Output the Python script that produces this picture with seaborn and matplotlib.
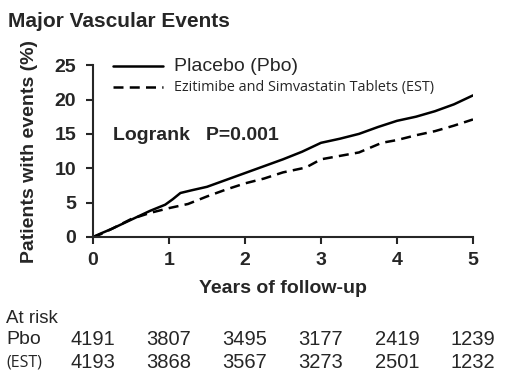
import numpy as np
import pandas as pd
import seaborn as sns
import matplotlib.pyplot as plt
from matplotlib import transforms

# curvas (años, % con eventos)
years_pbo = [0, 0.1, 0.25, 0.5, 0.75, 0.95, 1.05, 1.15, 1.3, 1.5, 1.75, 2.0, 2.25, 2.5,
             2.75, 3.0, 3.25, 3.5, 3.75, 4.0, 4.25, 4.5, 4.75, 5.0]
pct_pbo = [0, 0.5, 1.2, 2.5, 3.8, 4.7, 5.5, 6.4, 6.8, 7.3, 8.3, 9.3, 10.3, 11.3,
           12.4, 13.7, 14.3, 15.0, 16.0, 16.9, 17.5, 18.3, 19.3, 20.6]
years_est = [0, 0.1, 0.25, 0.5, 0.75, 1.0, 1.25, 1.5, 1.75, 2.0, 2.25, 2.5, 2.8,
             3.0, 3.25, 3.5, 3.8, 4.0, 4.25, 4.5, 4.75, 5.0]
pct_est = [0, 0.4, 1.2, 2.6, 3.5, 4.2, 4.8, 5.9, 6.9, 7.8, 8.5, 9.4, 10.1,
           11.3, 11.8, 12.3, 13.7, 14.1, 14.8, 15.4, 16.2, 17.1]

risk_years = [0, 1, 2, 3, 4, 5]
risk_pbo = [4191, 3807, 3495, 3177, 2419, 1239]
risk_est = [4193, 3868, 3567, 3273, 2501, 1232]

df = pd.concat([
    pd.DataFrame({'year': years_pbo, 'pct': pct_pbo, 'grupo': 'Placebo (Pbo)'}),
    pd.DataFrame({'year': years_est, 'pct': pct_est, 'grupo': 'Ezitimibe and Simvastatin Tablets (EST)'}),
])

sns.set_style('ticks')
plt.rcParams['font.family'] = ['Liberation Sans', 'DejaVu Sans']

fig = plt.figure(figsize=(5.1, 3.81), dpi=100)
ax = fig.add_axes([0.1824, 0.378, 0.745, 0.451])

sns.lineplot(data=df, x='year', y='pct', hue='grupo', style='grupo',
             palette=['black', 'black'], dashes=[(None, None), (4, 2.5)],
             linewidth=1.8, ax=ax, legend=False, estimator=None)

ax.set_xlim(0, 5)
ax.set_ylim(0, 25)
ax.set_xticks(range(6))
ax.set_yticks(range(0, 26, 5))
ax.tick_params(labelsize=14, width=1.5, length=5, direction='out')
ax.tick_params(axis='x', pad=6)
ax.tick_params(axis='y', pad=7)
for lbl in ax.get_xticklabels() + ax.get_yticklabels():
    lbl.set_fontweight('bold')
for s in ['left', 'bottom']:
    ax.spines[s].set_linewidth(1.5)
sns.despine(ax=ax)

ax.set_xlabel('Years of follow-up', fontsize=14, fontweight='bold')
ax.set_ylabel('Patients with events (%)', fontsize=14, fontweight='bold')
ax.xaxis.set_label_coords(0.5, -0.25)
ax.yaxis.set_label_coords(-0.145, 0.5)

# leyenda a mano
leg = ax.legend(handles=ax.get_lines()[:2],
                labels=['Placebo (Pbo)', 'Ezitimibe and Simvastatin Tablets (EST)'],
                loc='upper left', bbox_to_anchor=(0.02, 1.115), frameon=False,
                handlelength=3.6, handletextpad=0.8, labelspacing=0.4)
leg.get_texts()[0].set_fontsize(14)
leg.get_texts()[1].set_fontsize(10.4)
leg.get_texts()[1].set_fontfamily(['Open Sans', 'DejaVu Sans'])

ax.text(0.26, 14.8, 'Logrank   P=0.001', fontsize=14, fontweight='bold', va='center')

fig.text(0.016, 0.944, 'Major Vascular Events', fontsize=15, fontweight='bold', va='center')

# tabla de pacientes en riesgo
tr = transforms.blended_transform_factory(ax.transData, fig.transFigure)
fig.text(0.012, 0.165, 'At risk', fontsize=13.5, va='center')
fig.text(0.012, 0.108, 'Pbo', fontsize=14, va='center')
fig.text(0.012, 0.048, '(EST)', fontsize=11.5, va='center', family=['Open Sans', 'DejaVu Sans'])
for x, a, b in zip(risk_years, risk_pbo, risk_est):
    ax.text(x, 0.108, str(a), transform=tr, fontsize=14.5, ha='center', va='center', clip_on=False)
    ax.text(x, 0.048, str(b), transform=tr, fontsize=14.5, ha='center', va='center', clip_on=False)

fig.savefig('out.png', dpi=100)
